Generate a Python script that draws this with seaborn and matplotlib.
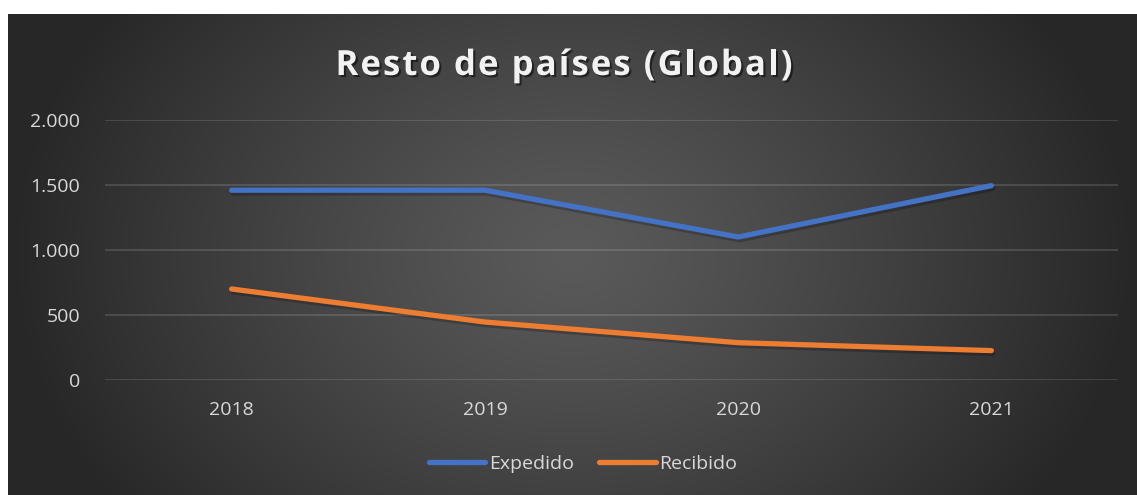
import numpy as np
import pandas as pd
import matplotlib
matplotlib.use("Agg")
import matplotlib.pyplot as plt
import matplotlib.patheffects as pe
from matplotlib.ticker import FuncFormatter
import seaborn as sns

# data
years = ["2018", "2019", "2020", "2021"]
expedido = [1460, 1460, 1100, 1495]
recibido = [700, 446, 287, 226]

df = pd.DataFrame({
    "Año": years * 2,
    "Valor": expedido + recibido,
    "Serie": ["Expedido"] * 4 + ["Recibido"] * 4,
})

sns.set_theme(style="dark")
plt.rcParams["font.family"] = ["Open Sans", "DejaVu Sans"]

W, H = 1137, 495
fig = plt.figure(figsize=(W / 100, H / 100), dpi=100)
fig.patch.set_facecolor("white")

# dark radial background panel
bg = fig.add_axes([8 / W, 0, (W - 8) / W, (H - 14) / H], zorder=0)
gx, gy = np.meshgrid(np.linspace(-1, 1, 400), np.linspace(-1, 1, 200))
r = np.clip(np.sqrt(gx ** 2 + (0.55 * gy) ** 2), 0, 1)
c_in, c_out = 0x5a / 255, 0x27 / 255
shade = c_in + (c_out - c_in) * r ** 1.2
bg.imshow(np.dstack([shade] * 3), aspect="auto", extent=[0, 1, 0, 1])
bg.set_axis_off()

ax = fig.add_axes([105 / W, (H - 380) / H, (1118 - 105) / W, 260 / H], zorder=1)
ax.patch.set_alpha(0)

palette = {"Expedido": "#4472c4", "Recibido": "#ed7d31"}
sns.lineplot(data=df, x="Año", y="Valor", hue="Serie", palette=palette,
             linewidth=3.8, ax=ax, sort=False, legend=False)
for ln in ax.lines:
    ln.set_solid_capstyle("round")
    ln.set_solid_joinstyle("round")
    ln.set_path_effects([pe.SimpleLineShadow(offset=(1, -2), alpha=0.22, shadow_color="black"),
                         pe.Normal()])

ax.set_xlim(-0.5, 3.5)
ax.set_ylim(0, 2000)
ax.set_yticks([0, 500, 1000, 1500, 2000])
ax.yaxis.set_major_formatter(FuncFormatter(lambda v, p: f"{int(v):,}".replace(",", ".")))
ax.grid(axis="y", color="white", alpha=0.13, linewidth=1.5)
ax.grid(axis="x", visible=False)
for s in ax.spines.values():
    s.set_visible(False)
ax.tick_params(axis="both", colors="#d9d9d9", labelsize=14, length=0)
ax.tick_params(axis="y", pad=18)
ax.tick_params(axis="x", pad=15)
ax.set_xlabel("")
ax.set_ylabel("")

# legend
handles = [plt.Line2D([], [], color=palette[k], linewidth=3.8, solid_capstyle="round") for k in palette]
leg = fig.legend(handles, list(palette), loc="center", bbox_to_anchor=(583 / W, (H - 464) / H),
                 ncol=2, frameon=False, fontsize=14, handlelength=2.9, handletextpad=0.2,
                 columnspacing=1.3)
for t in leg.get_texts():
    t.set_color("#d9d9d9")

# title with letter spacing, drawn char by char
title = "Resto de países (Global)"
target_w = 457
tkw = dict(fontsize=25, fontweight="bold", color="#f2f2f2", va="center", ha="left",
           path_effects=[pe.withSimplePatchShadow(offset=(1.5, -1.5), alpha=0.5, shadow_rgbFace="black")])
renderer = fig.canvas.get_renderer()
def width(s):
    t = fig.text(0, 0, s, **tkw)
    w = t.get_window_extent(renderer).width
    t.remove()
    return w
full_w = width(title)
gap = (target_w - full_w) / (len(title) - 1)
x0 = 564 - target_w / 2
for i, ch in enumerate(title):
    xp = x0 + (width(title[:i]) if i else 0) + i * gap
    fig.text(xp / W, (H - 66) / H, ch, **tkw)

fig.savefig("out.png", dpi=100)
